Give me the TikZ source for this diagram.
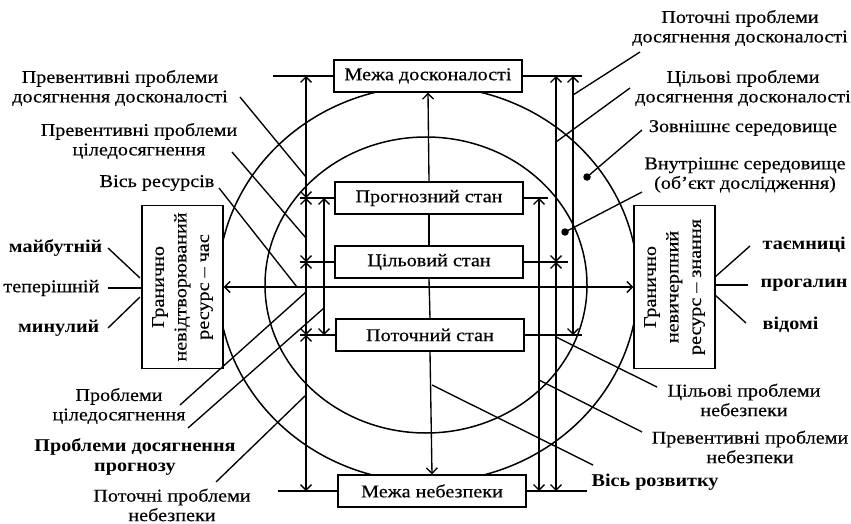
\documentclass[tikz,border=0pt]{standalone}
\usepackage{fontspec}
\setmainfont[FakeStretch=1.12,UprightFeatures={FakeBold=0.4}]{Liberation Serif}
\usetikzlibrary{arrows.meta}

\begin{document}
\begin{tikzpicture}[x=1pt,y=-1pt,line width=1.35pt,
  >={Straight Barb[length=5.5pt,width=11pt]},
  box/.style={draw,fill=white,line width=1.4pt,minimum width=188pt,minimum height=32pt,
    inner sep=0pt,font=\fontsize{18}{19.5}\selectfont},
  sidebox/.style={draw,fill=white,line width=1.4pt,rotate=90,minimum width=163pt,
    minimum height=81pt,inner sep=0pt,align=center,font=\fontsize{18}{22.5}\selectfont},
  lbl/.style={align=center,inner sep=0pt,font=\fontsize{18}{19.5}\selectfont},
  blbl/.style={lbl,font=\fontsize{18}{19.5}\selectfont\bfseries},
  env/.style={line width=1.5pt},
  dot/.style={circle,fill,inner sep=0pt,minimum size=7.5pt}
]
\useasboundingbox (0,0) rectangle (851,524);

% outer and inner environments
\draw[env] (428,284) ellipse [x radius=210pt, y radius=198pt];
\draw[env] (426,285) ellipse [x radius=161pt, y radius=148pt];

% state boxes
\node[box] (perf)  at (428,76)  {Межа досконалості};
\node[box] (fcst)  at (429,198) {Прогнозний стан};
\node[box] (goal)  at (429,262) {Цільовий стан};
\node[box] (curr)  at (430,335) {Поточний стан};
\node[box] (dang)  at (432,491) {Межа небезпеки};

% boundary resources
\node[sidebox] (timebox) at (182.5,287) {Гранично\\невідтворюваний\\ресурс – час};
\node[sidebox] (knowbox) at (674.5,287) {Гранично\\невичерпний\\ресурс – знання};

% resource axis
\draw[<->] (timebox.south) -- (knowbox.north);

% development axis
\draw[->] (fcst.north) -- (perf.south);
\draw (fcst.south) -- (goal.north);
\draw (goal.south) -- (curr.north);
\draw[->] (curr.south) -- (dang.north);

% level ticks
\coordinate (pL) at (273,76);  \coordinate (pR) at (582,76);
\coordinate (fL) at (300,198); \coordinate (fR) at (548,198);
\coordinate (gL) at (300,262); \coordinate (gR) at (568,262);
\coordinate (cL) at (300,335); \coordinate (cR) at (582,335);
\coordinate (dL) at (278,491); \coordinate (dR) at (587,491);
\draw (pL) -- (perf.west);  \draw (perf.east) -- (pR);
\draw (fL) -- (fcst.west);  \draw (fcst.east) -- (fR);
\draw (gL) -- (goal.west);  \draw (goal.east) -- (gR);
\draw (cL) -- (curr.west);  \draw (curr.east) -- (cR);
\draw (dL) -- (dang.west);  \draw (dang.east) -- (dR);

% problem spans, left
\coordinate (a1) at (306,76);  \coordinate (a2) at (306,198);
\coordinate (a3) at (306,262); \coordinate (a4) at (306,335);
\coordinate (a5) at (306,491);
\draw[<->] (a1) -- (a2);
\draw[<->] (a2) -- (a3);
\draw[<->] (a3) -- (a4);
\draw[<->] (a4) -- (a5);
\coordinate (b1) at (324,198); \coordinate (b2) at (324,335);
\draw[<->] (b1) -- (b2);

% problem spans, right
\coordinate (c1) at (539,198); \coordinate (c2) at (539,491);
\draw[<->] (c1) -- (c2);
\coordinate (d1) at (556,76);  \coordinate (d2) at (556,262);
\coordinate (d3) at (556,491);
\draw[<->] (d1) -- (d2);
\draw[<->] (d2) -- (d3);
\coordinate (e1) at (573,76);  \coordinate (e2) at (573,335);
\draw[<->] (e1) -- (e2);

% environment markers
\node[dot] (outdot) at (587,177) {};
\node[dot] (indot)  at (565,232) {};

% labels, left
\node[lbl] (t1) at (120,88)  {Превентивні проблеми\\досягнення досконалості};
\node[lbl] (t2) at (139,141) {Превентивні проблеми\\цiледосягнення};
\node[lbl] (t3) at (157,183) {Вісь ресурсів};
\node[lbl] (t4) at (119,406) {Проблеми\\цiледосягнення};
\node[blbl] (t5) at (135,457) {Проблеми досягнення\\прогнозу};
\node[lbl] (t6) at (172,505) {Поточні проблеми\\небезпеки};

\coordinate (s1) at (240,97);  \coordinate (e1a) at (306,177);
\coordinate (s2) at (232,152); \coordinate (e2a) at (306,238);
\coordinate (s3) at (219,188); \coordinate (e3a) at (297,287);
\coordinate (s4) at (180,405); \coordinate (e4a) at (306,292);
\coordinate (s5) at (188,428); \coordinate (e5a) at (324,308);
\coordinate (s6) at (216,482); \coordinate (e6a) at (306,395);
\draw (s1) -- (e1a);
\draw (s2) -- (e2a);
\draw (s3) -- (e3a);
\draw (s4) -- (e4a);
\draw (s5) -- (e5a);
\draw (s6) -- (e6a);

% labels, right
\node[lbl] (t7) at (740,28)  {Поточні проблеми\\досягнення досконалості};
\node[lbl] (t8) at (743,88)  {Цільові проблеми\\досягнення досконалості};
\node[lbl] (t9) at (743,128) {Зовнішнє середовище};
\node[lbl] (t10) at (745,175) {Внутрішнє середовище\\(об’єкт дослідження)};
\node[lbl] (t11) at (744,400) {Цільові проблеми\\небезпеки};
\node[lbl] (t12) at (750,447) {Превентивні проблеми\\небезпеки};
\node[blbl] (t13) at (655,482) {Вісь розвитку};

\coordinate (s7) at (640,52);  \coordinate (e7a) at (573,95);
\coordinate (s8) at (630,88);  \coordinate (e8a) at (556,142);
\coordinate (s9) at (642,130);
\coordinate (s10) at (642,192);
\coordinate (s11) at (657,387); \coordinate (e11a) at (556,337);
\coordinate (s12) at (642,432); \coordinate (e12a) at (539,380);
\coordinate (s13) at (593,465); \coordinate (e13a) at (432,385);
\draw (s7) -- (e7a);
\draw (s8) -- (e8a);
\draw (s9) -- (outdot.center);
\draw (s10) -- (indot.center);
\draw (s11) -- (e11a);
\draw (s12) -- (e12a);
\draw (s13) -- (e13a);

% time and knowledge facets
\node[blbl,anchor=east] (fut)  at (103,248) {майбутній};
\node[lbl,anchor=east]  (pres) at (100,288) {теперішній};
\node[blbl,anchor=east] (past) at (100,328) {минулий};
\coordinate (fut1) at (108,248);  \coordinate (fut2) at (140,278);
\coordinate (pres1) at (108,288); \coordinate (pres2) at (142,288);
\coordinate (past1) at (108,328); \coordinate (past2) at (140,297);
\draw (fut1) -- (fut2);
\draw (pres1) -- (pres2);
\draw (past1) -- (past2);

\node[blbl,anchor=west] (secr) at (762,245) {таємниці};
\node[blbl,anchor=west] (gaps) at (760,285) {прогалин};
\node[blbl,anchor=west] (known) at (762,325) {відомі};
\coordinate (secr1) at (715,277); \coordinate (secr2) at (750,246);
\coordinate (gaps1) at (715,285); \coordinate (gaps2) at (748,285);
\coordinate (known1) at (715,295); \coordinate (known2) at (746,323);
\draw (secr1) -- (secr2);
\draw (gaps1) -- (gaps2);
\draw (known1) -- (known2);
\end{tikzpicture}
\end{document}
